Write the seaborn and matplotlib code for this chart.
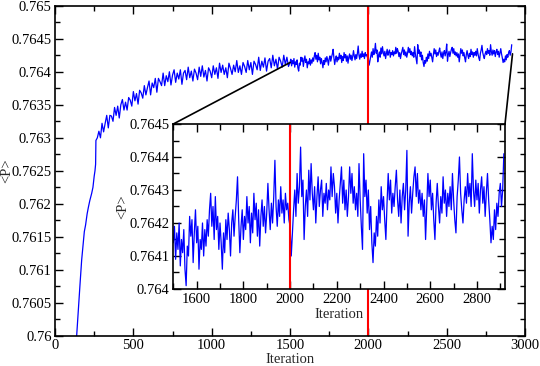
import matplotlib
matplotlib.use("Agg")
import matplotlib.pyplot as plt
import numpy as np
import pandas as pd
import seaborn as sns
from matplotlib.patches import ConnectionPatch
from matplotlib.ticker import MultipleLocator, FuncFormatter

# steep start of the run
iter_rise = [125, 138, 150, 160, 170, 180, 187, 195, 205, 213, 222, 234, 242, 250, 255, 259, 261]
p_rise = [0.75975, 0.76000, 0.76045, 0.76080, 0.76115, 0.76140, 0.76158, 0.76168, 0.76185,
          0.76195, 0.76205, 0.76216, 0.76225, 0.76242, 0.76250, 0.76260, 0.76296]

# iterations 270..1490, every 10
p_mid = [
    0.76300, 0.76310, 0.76300, 0.76322, 0.76309, 0.76322, 0.76334, 0.76315, 0.76334, 0.76333,
    0.76325, 0.76346, 0.76334, 0.76348, 0.76330, 0.76350, 0.76358, 0.76342, 0.76354, 0.76342,
    0.76361, 0.76357, 0.76348, 0.76370, 0.76356, 0.76367, 0.76351, 0.76372, 0.76368, 0.76360,
    0.76379, 0.76365, 0.76376, 0.76386, 0.76365, 0.76383, 0.76376, 0.76390, 0.76369, 0.76390,
    0.76385, 0.76379, 0.76398, 0.76379, 0.76394, 0.76385, 0.76400, 0.76380, 0.76395, 0.76403,
    0.76384, 0.76398, 0.76389, 0.76403, 0.76381, 0.76398, 0.76402, 0.76388, 0.76407, 0.76391,
    0.76401, 0.76386, 0.76404, 0.76398, 0.76388, 0.76407, 0.76393, 0.76409, 0.76392, 0.76402,
    0.76386, 0.76406, 0.76401, 0.76391, 0.76409, 0.76396, 0.76406, 0.76390, 0.76413, 0.76399,
    0.76410, 0.76396, 0.76406, 0.76391, 0.76413, 0.76405, 0.76396, 0.76410, 0.76400, 0.76417,
    0.76399, 0.76409, 0.76396, 0.76414, 0.76408, 0.76399, 0.76417, 0.76403, 0.76414, 0.76396,
    0.76416, 0.76411, 0.76403, 0.76422, 0.76402, 0.76416, 0.76407, 0.76421, 0.76401, 0.76416,
    0.76420, 0.76406, 0.76425, 0.76409, 0.76419, 0.76404, 0.76422, 0.76416, 0.76407, 0.76425,
    0.76411, 0.76422, 0.76408,
]

# iterations 1500..2915, every 5
p_tail = [
    0.76414, 0.76419, 0.76409, 0.76417, 0.76412, 0.76420, 0.76407, 0.76415, 0.76411, 0.76418,
    0.76406, 0.76401, 0.76413, 0.76410, 0.76422, 0.76416, 0.76421, 0.76408, 0.76417, 0.76424,
    0.76414, 0.76419, 0.76406, 0.76415, 0.76412, 0.76420, 0.76410, 0.76418, 0.76413, 0.76421,
    0.76416, 0.76424, 0.76429, 0.76419, 0.76425, 0.76415, 0.76428, 0.76418, 0.76422, 0.76412,
    0.76420, 0.76414, 0.76406, 0.76417, 0.76411, 0.76421, 0.76415, 0.76423, 0.76418, 0.76410,
    0.76420, 0.76424, 0.76416, 0.76422, 0.76427, 0.76434, 0.76421, 0.76411, 0.76419, 0.76424,
    0.76415, 0.76422, 0.76418, 0.76428, 0.76420, 0.76425, 0.76414, 0.76423, 0.76417, 0.76429,
    0.76421, 0.76426, 0.76416, 0.76424, 0.76413, 0.76422, 0.76427, 0.76419, 0.76425, 0.76417,
    0.76423, 0.76432, 0.76424, 0.76418, 0.76426, 0.76420, 0.76428, 0.76439, 0.76425, 0.76419,
    0.76427, 0.76422, 0.76431, 0.76423, 0.76427, 0.76420, 0.76429, 0.76424, 0.76426, 0.76421,
    0.76419, 0.76410, 0.76417, 0.76424, 0.76430, 0.76422, 0.76435, 0.76426, 0.76431, 0.76443,
    0.76428, 0.76433, 0.76415, 0.76425, 0.76430, 0.76422, 0.76436, 0.76427, 0.76438, 0.76429,
    0.76424, 0.76431, 0.76420, 0.76428, 0.76434, 0.76425, 0.76430, 0.76433, 0.76422, 0.76429,
    0.76426, 0.76432, 0.76424, 0.76430, 0.76427, 0.76437, 0.76428, 0.76435, 0.76431, 0.76423,
    0.76429, 0.76420, 0.76427, 0.76432, 0.76437, 0.76426, 0.76433, 0.76424, 0.76430, 0.76422,
    0.76428, 0.76437, 0.76429, 0.76435, 0.76426, 0.76431, 0.76424, 0.76429, 0.76422, 0.76438,
    0.76427, 0.76419, 0.76412, 0.76441, 0.76428, 0.76433, 0.76423, 0.76430, 0.76418, 0.76425,
    0.76414, 0.76408, 0.76417, 0.76413, 0.76422, 0.76416, 0.76427, 0.76420, 0.76431, 0.76424,
    0.76428, 0.76421, 0.76415, 0.76426, 0.76435, 0.76427, 0.76433, 0.76423, 0.76429, 0.76425,
    0.76431, 0.76436, 0.76427, 0.76422, 0.76430, 0.76420, 0.76428, 0.76432, 0.76424, 0.76430,
    0.76442, 0.76416, 0.76426, 0.76431, 0.76423, 0.76429, 0.76434, 0.76437, 0.76428, 0.76435,
    0.76426, 0.76430, 0.76424, 0.76429, 0.76422, 0.76427, 0.76415, 0.76425, 0.76435, 0.76428,
    0.76433, 0.76424, 0.76429, 0.76421, 0.76415, 0.76426, 0.76432, 0.76425, 0.76420, 0.76428,
    0.76423, 0.76434, 0.76426, 0.76430, 0.76422, 0.76429, 0.76425, 0.76431, 0.76424, 0.76435,
    0.76427, 0.76421, 0.76417, 0.76428, 0.76433, 0.76440, 0.76429, 0.76424, 0.76420, 0.76427,
    0.76431, 0.76426, 0.76435, 0.76428, 0.76432, 0.76425, 0.76441, 0.76430, 0.76425, 0.76433,
    0.76427, 0.76432, 0.76423, 0.76430, 0.76434, 0.76426, 0.76431, 0.76422, 0.76429, 0.76435,
    0.76427, 0.76421, 0.76414, 0.76419, 0.76415, 0.76424, 0.76418, 0.76426, 0.76422, 0.76429,
    0.76432, 0.76425, 0.76430, 0.76441,
]

mark_iter = 2000  # red marker line

iters = np.concatenate([iter_rise,
                        np.arange(270, 270 + 10 * len(p_mid), 10),
                        np.arange(1500, 1500 + 5 * len(p_tail), 5)])
df = pd.DataFrame({"iteration": iters, "P": np.concatenate([p_rise, p_mid, p_tail])})
tail = df[df["iteration"] >= 1500]

sns.set_style("ticks")
plt.rcParams["font.family"] = ["Liberation Serif", "DejaVu Serif"]
fs = 10.5

fig = plt.figure(figsize=(5.4, 3.66), dpi=100)
ax = fig.add_axes([0.1019, 0.082, 0.8704, 0.9024])
axins = fig.add_axes([0.3209, 0.2104, 0.6143, 0.4508])

def style(a, major_len, minor_len, ylab_x, xlab_pad, tick_pad):
    a.tick_params(which="both", direction="in", top=True, right=True,
                  colors="black", labelsize=fs, width=1.0, pad=tick_pad)
    a.tick_params(which="major", length=major_len)
    a.tick_params(which="minor", length=minor_len)
    for s in a.spines.values():
        s.set_linewidth(1.2)
        s.set_color("black")
    a.yaxis.set_major_formatter(FuncFormatter(lambda v, p: f"{v:.5g}"))
    a.set_xlabel("Iteration", fontsize=fs, labelpad=xlab_pad)
    a.set_ylabel("<P>", fontsize=fs)
    a.yaxis.set_label_coords(ylab_x, 0.5)

# main panel
sns.lineplot(data=df, x="iteration", y="P", ax=ax, color="#0000ff", linewidth=0.9,
             estimator=None, errorbar=None)
ax.axvline(mark_iter, color="red", linewidth=1.5)
ax.set_xlim(0, 3000)
ax.set_ylim(0.76, 0.765)
ax.xaxis.set_major_locator(MultipleLocator(500))
ax.xaxis.set_minor_locator(MultipleLocator(250))
ax.yaxis.set_major_locator(MultipleLocator(0.0005))
ax.yaxis.set_minor_locator(MultipleLocator(0.00025))
style(ax, 6, 3.5, -0.088, 0.5, 2.4)

# inset
sns.lineplot(data=tail, x="iteration", y="P", ax=axins, color="#0000ff", linewidth=0.9,
             estimator=None, errorbar=None)
axins.axvline(mark_iter, color="red", linewidth=1.5)
x0, x1 = tail["iteration"].min(), tail["iteration"].max() + 5
axins.set_xlim(x0, x1)
axins.set_ylim(0.764, 0.7645)
axins.xaxis.set_major_locator(MultipleLocator(200))
axins.xaxis.set_minor_locator(MultipleLocator(100))
axins.yaxis.set_major_locator(MultipleLocator(0.0001))
axins.yaxis.set_minor_locator(MultipleLocator(0.00005))
style(axins, 6, 4, -0.133, 1.5, 2.9)
axins.set_facecolor("white")

# zoom connectors
y_left = tail["P"].iloc[:20].mean()
y_right = tail["P"].iloc[-60:].mean()
for xa, ya in [(x0, y_left), (x1, y_right)]:
    con = ConnectionPatch(xyA=(xa, ya), coordsA=ax.transData,
                          xyB=(xa, 0.7645), coordsB=axins.transData,
                          color="black", linewidth=1.2)
    fig.add_artist(con)

fig.savefig("out.png", dpi=100)
